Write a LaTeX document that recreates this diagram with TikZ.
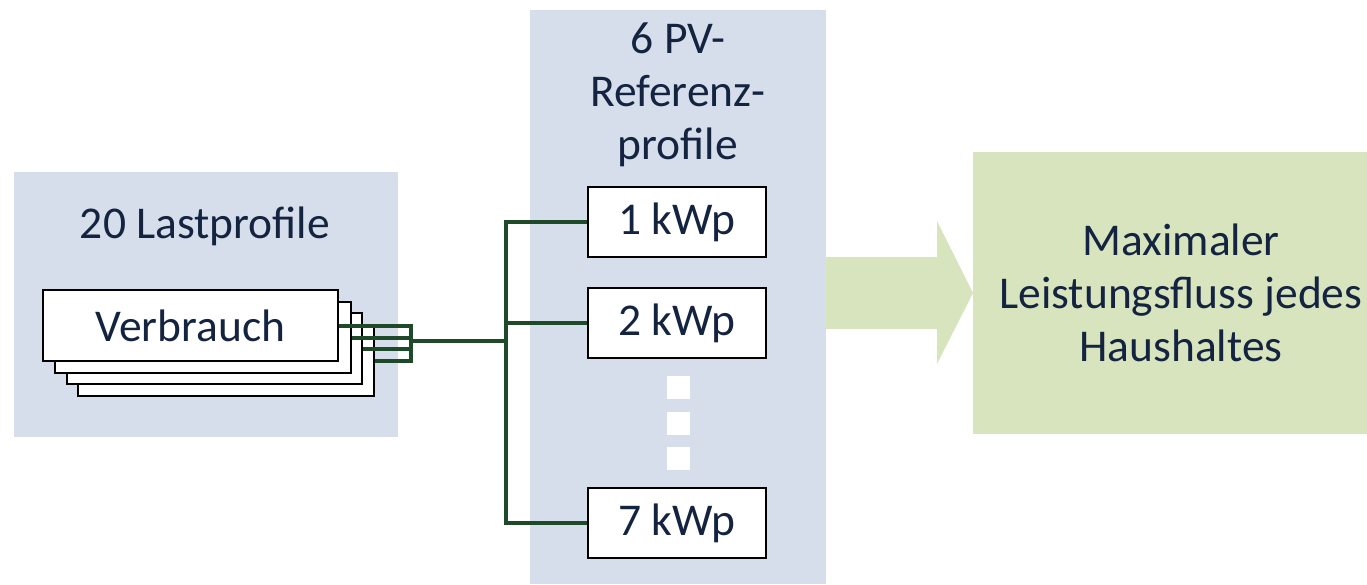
\documentclass[tikz,border=0pt]{standalone}
\usepackage{fontspec}
\setmainfont{Carlito}
\definecolor{bgblue}{RGB}{213,222,234}
\definecolor{bggreen}{RGB}{216,228,190}
\definecolor{txt}{RGB}{20,36,64}
\definecolor{conn}{RGB}{30,74,42}
\begin{document}
\begin{tikzpicture}[x=1pt,y=-1pt,
  lbl/.style={font=\fontsize{45.5}{53}\selectfont, text=txt, align=center, inner sep=0pt},
  card/.style={draw=black, line width=1.2pt, fill=white, minimum width=295pt, minimum height=71pt, inner sep=0pt},
  kbox/.style={draw=black, line width=1.2pt, fill=white, minimum width=178pt, minimum height=70pt, inner sep=0pt, font=\fontsize{45.5}{53}\selectfont, text=txt},
  wire/.style={draw=conn, line width=4pt, line join=miter}]
\useasboundingbox (0,0) rectangle (1367,584);
% backgrounds
\fill[bgblue] (14,172) rectangle (398,437);
\fill[bgblue] (530,10) rectangle (826,584);
\fill[bggreen] (973,152) rectangle (1367,434);
% arrow
\fill[bggreen] (826,257) -- (937,257) -- (937,221) -- (973,293) -- (937,364) -- (937,329) -- (826,329) -- cycle;
% titles
\node[lbl] (t1) at (205,226) {20 Lastprofile};
\node[lbl] (t2) at (678,95) {6 PV-\\Referenz-\\profile};
\node[lbl] (t3) at (1181,293) {Maximaler\\Leistungsfluss jedes\\Haushaltes};
% stacked cards
\node[card, minimum width=296pt] (v4) at (226,360.5) {};
\node[card] (v3) at (214.5,348.5) {};
\node[card, minimum width=296pt] (v2) at (203,337.5) {};
\node[card] (v1) at (190.5,325.5) {};
\node[lbl] (vt) at (v1) {Verbrauch};
% kWp boxes
\node[kbox] (k1) at (677,222) {1 kWp};
\node[kbox] (k2) at (677,323) {2 kWp};
\node[kbox] (k7) at (677,523) {7 kWp};
% dots
\fill[white] (667,376) rectangle (690,399);
\fill[white] (667,412) rectangle (690,435);
\fill[white] (667,447) rectangle (690,470);
% connectors
\coordinate (jn) at (411,341);
\coordinate (bx) at (506,341);
\draw[wire] (v1.east) -- (v1.east -| jn) -- (v4.east -| jn) -- (v4.east);
\draw[wire] (v2.east) -- (v2.east -| jn);
\draw[wire] (v3.east) -- (v3.east -| jn);
\draw[wire] (jn) -- (bx);
\draw[wire] (k1.west) -| (bx) |- (k7.west);
\draw[wire] (k2.west) -- (k2.west -| bx);
\end{tikzpicture}
\end{document}
